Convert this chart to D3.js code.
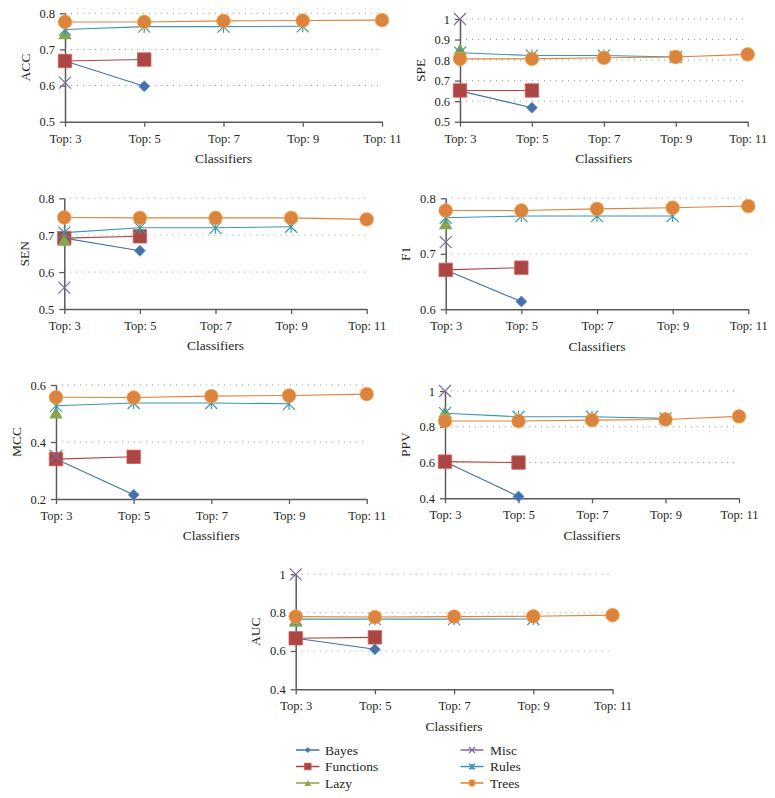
<!DOCTYPE html>
<html>
<head>
<meta charset="utf-8">
<script src="https://cdn.jsdelivr.net/npm/d3@7"></script>
<style>
  body { margin: 0; background: #fff; }
  svg text { font-family: "Liberation Serif", "DejaVu Serif", serif !important; fill: #231f20; }
</style>
</head>
<body>
<div id="chart"></div>
<script>
// categorias y series
const categories = ["Top: 3", "Top: 5", "Top: 7", "Top: 9", "Top: 11"]
const seriesNames = ["Bayes", "Functions", "Lazy", "Misc", "Rules", "Trees"]
const seriesColors = ["#4572a7", "#aa4643", "#89a54e", "#80699b", "#3d96ae", "#db843d"]

// valores por metrica, en el orden de seriesNames
const acc = [[0.668, 0.598], [0.668, 0.672], [0.742], [0.608], [0.755, 0.763, 0.763, 0.764], [0.776, 0.776, 0.779, 0.780, 0.781]]
const spe = [[0.650, 0.568], [0.652, 0.652], [0.848], [1.0], [0.836, 0.822, 0.822, 0.815], [0.806, 0.806, 0.811, 0.815, 0.828]]
const sen = [[0.692, 0.658], [0.692, 0.697], [0.685], [0.558], [0.707, 0.720, 0.720, 0.723], [0.748, 0.747, 0.747, 0.747, 0.743]]
const f1 = [[0.671, 0.614], [0.671, 0.675], [0.753], [0.721], [0.765, 0.768, 0.768, 0.768], [0.778, 0.778, 0.781, 0.783, 0.786]]
const mcc = [[0.340, 0.215], [0.340, 0.348], [0.500], [0.350], [0.527, 0.537, 0.537, 0.534], [0.557, 0.556, 0.561, 0.563, 0.568]]
const ppv = [[0.605, 0.410], [0.605, 0.600], [0.878], [1.0], [0.876, 0.856, 0.856, 0.847], [0.832, 0.832, 0.837, 0.841, 0.858]]
const auc = [[0.666, 0.609], [0.666, 0.671], [0.752], [1.0], [0.766, 0.766, 0.766, 0.767], [0.779, 0.777, 0.779, 0.781, 0.787]]

// ticks del eje y
const accTicks = [0.5, 0.6, 0.7, 0.8]
const speTicks = [0.5, 0.6, 0.7, 0.8, 0.9, 1]
const senTicks = [0.5, 0.6, 0.7, 0.8]
const f1Ticks = [0.6, 0.7, 0.8]
const mccTicks = [0.2, 0.4, 0.6]
const ppvTicks = [0.4, 0.6, 0.8, 1]
const aucTicks = [0.4, 0.6, 0.8, 1]

const panels = [
  { label: "ACC", values: acc, ticks: accTicks, left: 65, right: 382, top: 13.3, bottom: 121.7 },
  { label: "SPE", values: spe, ticks: speTicks, left: 460, right: 747.7, top: 19, bottom: 121.7 },
  { label: "SEN", values: sen, ticks: senTicks, left: 64.3, right: 366.7, top: 198.3, bottom: 309 },
  { label: "F1", values: f1, ticks: f1Ticks, left: 445.7, right: 748.3, top: 198.3, bottom: 309.3 },
  { label: "MCC", values: mcc, ticks: mccTicks, left: 56, right: 366.7, top: 385, bottom: 499 },
  { label: "PPV", values: ppv, ticks: ppvTicks, left: 445, right: 739, top: 391, bottom: 498.3 },
  { label: "AUC", values: auc, ticks: aucTicks, left: 295.7, right: 612.5, top: 574.3, bottom: 689.3 },
]

const anchoTotal = 775
const altoTotal = 798

const svg = d3.select("#chart")
  .append("svg")
  .attr("width", anchoTotal)
  .attr("height", altoTotal)

// marcadores
const drawMarker = (sel, i, color, k) => {
  const light = d3.color(color).brighter(0.7)
  if (i === 0) {
    sel.append("path")
      .attr("d", d3.symbol(d3.symbolSquare, 62 * k * k)())
      .attr("transform", "rotate(45)")
      .attr("fill", color)
      .attr("stroke", light).attr("stroke-width", 0.6)
  } else if (i === 1) {
    sel.append("path")
      .attr("d", d3.symbol(d3.symbolSquare, 180 * k * k)())
      .attr("fill", color)
      .attr("stroke", light).attr("stroke-width", 0.8)
  } else if (i === 2) {
    sel.append("path")
      .attr("d", d3.symbol(d3.symbolTriangle, 80 * k * k)())
      .attr("transform", "translate(0,1)")
      .attr("fill", color)
  } else if (i === 3) {
    const h = 6 * k
    sel.append("path")
      .attr("d", `M${-h},${-h}L${h},${h}M${-h},${h}L${h},${-h}`)
      .attr("stroke", color).attr("stroke-width", 1.2).attr("fill", "none")
  } else if (i === 4) {
    const h = 6 * k
    sel.append("path")
      .attr("d", `M${-h},${-h}L${h},${h}M${-h},${h}L${h},${-h}M0,${-h}L0,${h}`)
      .attr("stroke", color).attr("stroke-width", 1.2).attr("fill", "none")
  } else {
    sel.append("circle")
      .attr("r", 6.9 * k)
      .attr("fill", color)
      .attr("stroke", light).attr("stroke-width", 0.6)
  }
}

const fmt = (d) => (d === 1 ? "1" : d3.format(".1f")(d))

panels.forEach((p) => {
  const g = svg.append("g")

  const x = d3.scalePoint().domain(categories).range([p.left, p.right])
  const y = d3.scaleLinear().domain(d3.extent(p.ticks)).range([p.bottom, p.top])

  // lineas punteadas
  g.selectAll(".grid")
    .data(p.ticks.slice(1))
    .enter()
    .append("line")
    .attr("x1", p.left)
    .attr("x2", p.right)
    .attr("y1", (d) => y(d))
    .attr("y2", (d) => y(d))
    .attr("stroke", "#9a9a9a")
    .attr("stroke-width", 1)
    .attr("stroke-dasharray", "1,5")

  const xAxis = d3.axisBottom(x).tickSize(5).tickSizeOuter(0).tickPadding(7)
  const xg = g.append("g")
    .attr("transform", `translate(0, ${p.bottom})`)
    .call(xAxis)
  const yAxis = d3.axisLeft(y).tickValues(p.ticks).tickFormat(fmt).tickSize(5).tickSizeOuter(0).tickPadding(5)
  const yg = g.append("g")
    .attr("transform", `translate(${p.left}, 0)`)
    .call(yAxis)

  ;[xg, yg].forEach((a) => {
    a.attr("font-family", null).attr("font-size", null)
    a.select(".domain").attr("stroke", "#5a5a5a").attr("stroke-width", 1.5)
    a.selectAll(".tick line").attr("stroke", "#5a5a5a").attr("stroke-width", 1.3)
    a.selectAll("text")
      .style("font-size", "12.5px")
      .attr("fill", "#231f20")
  })

  g.append("text")
    .attr("transform", `translate(${p.left - 40}, ${(p.top + p.bottom) / 2}) rotate(-90)`)
    .attr("text-anchor", "middle")
    .attr("dy", "0.35em")
    .style("font-size", "13.5px")
    .text(p.label)

  g.append("text")
    .attr("x", (p.left + p.right) / 2)
    .attr("y", p.bottom + 36.5)
    .attr("text-anchor", "middle")
    .attr("dy", "0.35em")
    .style("font-size", "13.5px")
    .text("Classifiers")

  const line = d3.line()
    .x((d, j) => x(categories[j]))
    .y((d) => y(d))

  p.values.forEach((vals, i) => {
    g.append("path")
      .datum(vals)
      .attr("d", line)
      .attr("fill", "none")
      .attr("stroke", seriesColors[i])
      .attr("stroke-width", 1.1)
  })

  p.values.forEach((vals, i) => {
    vals.forEach((v, j) => {
      const m = g.append("g").attr("transform", `translate(${x(categories[j])}, ${y(v)})`)
      drawMarker(m, i, seriesColors[i], 1)
    })
  })
})

// leyenda
const legendRows = [750, 766.5, 783]
const legendCols = [{ x1: 296, x2: 319.5, tx: 325 }, { x1: 460.5, x2: 483.5, tx: 490 }]
seriesNames.forEach((name, i) => {
  const col = legendCols[Math.floor(i / 3)]
  const yy = legendRows[i % 3]
  const lg = svg.append("g")
  lg.append("line")
    .attr("x1", col.x1).attr("x2", col.x2)
    .attr("y1", yy).attr("y2", yy)
    .attr("stroke", seriesColors[i])
    .attr("stroke-width", 1.5)
  const m = lg.append("g").attr("transform", `translate(${(col.x1 + col.x2) / 2}, ${yy})`)
  drawMarker(m, i, seriesColors[i], 0.5)
  lg.append("text")
    .attr("x", col.tx)
    .attr("y", yy)
    .attr("dy", "0.35em")
    .style("font-size", "13.5px")
    .text(name)
})
</script>
</body>
</html>
